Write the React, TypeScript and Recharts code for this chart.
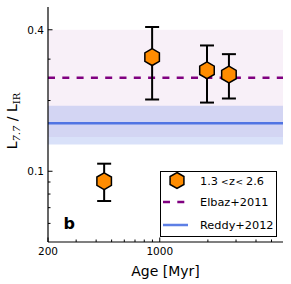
import React from 'react';
import {
  ComposedChart, Scatter, XAxis, YAxis, ReferenceArea, ReferenceLine, ErrorBar, Legend,
} from 'recharts';

// ---- data ----
const AGES = [449, 896, 1974, 2708];
const RATIOS = [0.0907, 0.306, 0.269, 0.258];
const ERR_LOW = [0.016, 0.104, 0.073, 0.054];
const ERR_HIGH = [0.017, 0.105, 0.074, 0.057];

const ELBAZ_VALUE = 0.25;
const ELBAZ_BAND = [0.14, 0.4];
const REDDY_VALUE = 0.16;
const REDDY_BAND = [0.13, 0.19];

const X_DOMAIN = [200, 5900];
const Y_DOMAIN = [0.05, 0.5];
const X_MAJOR = [200, 1000];
const X_MINOR = [300, 400, 500, 600, 700, 800, 900, 2000, 3000, 4000, 5000];
const Y_MAJOR = [0.1, 0.4];
const Y_MINOR = [0.06, 0.07, 0.08, 0.09, 0.2, 0.3];

const LEGEND_LABELS = ['1.3', 'z', '2.6', 'Elbaz+2011', 'Reddy+2012'];
const X_LABEL = 'Age [Myr]';
const PANEL_LABEL = 'b';

const data = AGES.map((a, i) => ({ age: a, ratio: RATIOS[i], err: [ERR_LOW[i], ERR_HIGH[i]] }));

const FONT = '"DejaVu Sans", sans-serif';
const ORANGE = '#ff8c00';
const PURPLE = '#800080';
const BLUE = '#4169e1';

const hexPoints = (cx: number, cy: number, r: number) =>
  [-90, -30, 30, 90, 150, 210]
    .map((d) => {
      const t = (d * Math.PI) / 180;
      return `${cx + r * Math.cos(t)},${cy + r * Math.sin(t)}`;
    })
    .join(' ');

const Hexagon = (props: any) => {
  const { cx, cy } = props;
  if (cx == null || cy == null) return null;
  return <polygon points={hexPoints(cx, cy, 8.4)} fill={ORANGE} stroke="#000" strokeWidth={1.5} />;
};

const fmt = (v: number) => String(v);

const XTickBottom = (props: any) => {
  const { x, y, payload } = props;
  const major = X_MAJOR.includes(payload.value);
  return (
    <g>
      <line x1={x} x2={x} y1={y} y2={y - (major ? 4.5 : 2.5)} stroke="#000" strokeWidth={1} />
      {major && (
        <text x={x} y={y + 13} textAnchor="middle" fontFamily={FONT} fontSize={10.5} fill="#000">
          {fmt(payload.value)}
        </text>
      )}
    </g>
  );
};
const XTickTop = (props: any) => {
  const { x, y, payload } = props;
  const major = X_MAJOR.includes(payload.value);
  return <line x1={x} x2={x} y1={y} y2={y + (major ? 4.5 : 2.5)} stroke="#000" strokeWidth={1} />;
};
const YTickLeft = (props: any) => {
  const { x, y, payload } = props;
  const major = Y_MAJOR.includes(payload.value);
  return (
    <g>
      <line x1={x} x2={x + (major ? 4.5 : 2.5)} y1={y} y2={y} stroke="#000" strokeWidth={1} />
      {major && (
        <text x={x - 4} y={y + 3.8} textAnchor="end" fontFamily={FONT} fontSize={10.5} fill="#000">
          {fmt(payload.value)}
        </text>
      )}
    </g>
  );
};
const YTickRight = (props: any) => {
  const { x, y, payload } = props;
  const major = Y_MAJOR.includes(payload.value);
  return <line x1={x} x2={x - (major ? 4.5 : 2.5)} y1={y} y2={y} stroke="#000" strokeWidth={1} />;
};

const YLabel = (props: any) => {
  const vb = props.viewBox || { x: 0, y: 7, width: 48, height: 235 };
  const cx = vb.x + 16.5;
  const cy = vb.y + vb.height / 2 - 3.5;
  return (
    <text
      x={cx}
      y={cy}
      transform={`rotate(-90, ${cx}, ${cy})`}
      textAnchor="middle"
      fontFamily={FONT}
      fill="#000"
    >
      <tspan fontSize={14}>L</tspan>
      <tspan fontSize={10} fontFamily='"DejaVu Serif", serif' fontStyle="italic" dy={3}>7.7</tspan>
      <tspan fontSize={14} dy={-3}> / L</tspan>
      <tspan fontSize={10} fontFamily='"DejaVu Serif", serif' dy={3}>IR</tspan>
    </text>
  );
};

const XLabel = (props: any) => {
  const vb = props.viewBox || { x: 48, y: 242, width: 235, height: 42 };
  return (
    <text x={vb.x + vb.width / 2} y={vb.y + 33.5} textAnchor="middle" fontFamily={FONT} fontSize={14} fill="#000">
      {X_LABEL}
    </text>
  );
};

const LegendBox = () => (
  <svg width={117} height={66} style={{ display: 'block' }}>
    <rect x={0.5} y={0.5} width={116} height={65} fill="#fff" stroke="#000" strokeWidth={1} />
    <polygon points={hexPoints(17, 9.5, 8)} fill={ORANGE} stroke="#000" strokeWidth={1.5} />
    <text x={40} y={13.5} fontFamily={FONT} fontSize={11.3} fill="#000">
      <tspan>{LEGEND_LABELS[0]}</tspan>
      <tspan fontSize={9} dx={3}>{'<'}</tspan>
      <tspan dx={0.5}>{LEGEND_LABELS[1]}</tspan>
      <tspan fontSize={9} dx={0.5}>{'<'}</tspan>
      <tspan dx={3}>{LEGEND_LABELS[2]}</tspan>
    </text>
    <line x1={3} x2={26} y1={31} y2={31} stroke={PURPLE} strokeWidth={2.5} strokeDasharray="7 7.3" />
    <text x={40} y={35} fontFamily={FONT} fontSize={11.3} fill="#000">{LEGEND_LABELS[3]}</text>
    <line x1={3} x2={28} y1={54} y2={54} stroke={BLUE} strokeWidth={2.5} opacity={0.85} />
    <text x={40} y={58} fontFamily={FONT} fontSize={11.3} fill="#000">{LEGEND_LABELS[4]}</text>
  </svg>
);

export default function App() {
  return (
    <div style={{ position: 'absolute', left: 0, top: 0 }}>
      <ComposedChart width={291} height={284} data={data} margin={{ top: 7, right: 8, bottom: 0, left: 0 }}>
        <XAxis
          dataKey="age"
          type="number"
          scale="log"
          domain={X_DOMAIN}
          allowDataOverflow
          ticks={[...X_MAJOR, ...X_MINOR]}
          interval={0}
          height={42}
          tickSize={0}
          tickMargin={0}
          tickLine={false}
          tick={<XTickBottom />}
          axisLine={{ stroke: '#000', strokeWidth: 1.2 }}
          label={<XLabel />}
        />
        <XAxis
          xAxisId="top"
          orientation="top"
          type="number"
          scale="log"
          domain={X_DOMAIN}
          allowDataOverflow
          ticks={[...X_MAJOR, ...X_MINOR]}
          interval={0}
          height={0}
          tickSize={0}
          tickMargin={0}
          tickLine={false}
          tick={<XTickTop />}
          axisLine={{ stroke: '#000', strokeWidth: 1.2 }}
        />
        <YAxis
          dataKey="ratio"
          type="number"
          scale="log"
          domain={Y_DOMAIN}
          allowDataOverflow
          ticks={[...Y_MAJOR, ...Y_MINOR]}
          interval={0}
          width={48}
          tickSize={0}
          tickMargin={0}
          tickLine={false}
          tick={<YTickLeft />}
          axisLine={{ stroke: '#000', strokeWidth: 1.2 }}
          label={<YLabel />}
        />
        <YAxis
          yAxisId="right"
          orientation="right"
          type="number"
          scale="log"
          domain={Y_DOMAIN}
          allowDataOverflow
          ticks={[...Y_MAJOR, ...Y_MINOR]}
          interval={0}
          width={0}
          tickSize={0}
          tickMargin={0}
          tickLine={false}
          tick={<YTickRight />}
          axisLine={{ stroke: '#000', strokeWidth: 1.2 }}
        />
        <ReferenceArea y1={ELBAZ_BAND[0]} y2={ELBAZ_BAND[1]} fill={PURPLE} fillOpacity={0.06} stroke="none" />
        <ReferenceArea y1={REDDY_BAND[0]} y2={REDDY_BAND[1]} fill={BLUE} fillOpacity={0.2} stroke="none" />
        <ReferenceLine y={ELBAZ_VALUE} stroke={PURPLE} strokeWidth={2.5} strokeDasharray="7 7.3" />
        <ReferenceLine y={REDDY_VALUE} stroke={BLUE} strokeWidth={2.5} strokeOpacity={0.9} />
        <Scatter dataKey="ratio" isAnimationActive={false} shape={<Hexagon />}>
          <ErrorBar dataKey="err" direction="y" stroke="#000" strokeWidth={2} width={7} />
        </Scatter>
        <Legend
          content={<LegendBox />}
          layout="horizontal"
          verticalAlign="middle"
          align="center"
          wrapperStyle={{ position: 'absolute', left: 160, top: 171, width: 117, height: 66 }}
        />
        <text x={63.5} y={228.5} fontFamily={FONT} fontSize={16} fontWeight="bold" fill="#000">
          {PANEL_LABEL}
        </text>
      </ComposedChart>
    </div>
  );
}
